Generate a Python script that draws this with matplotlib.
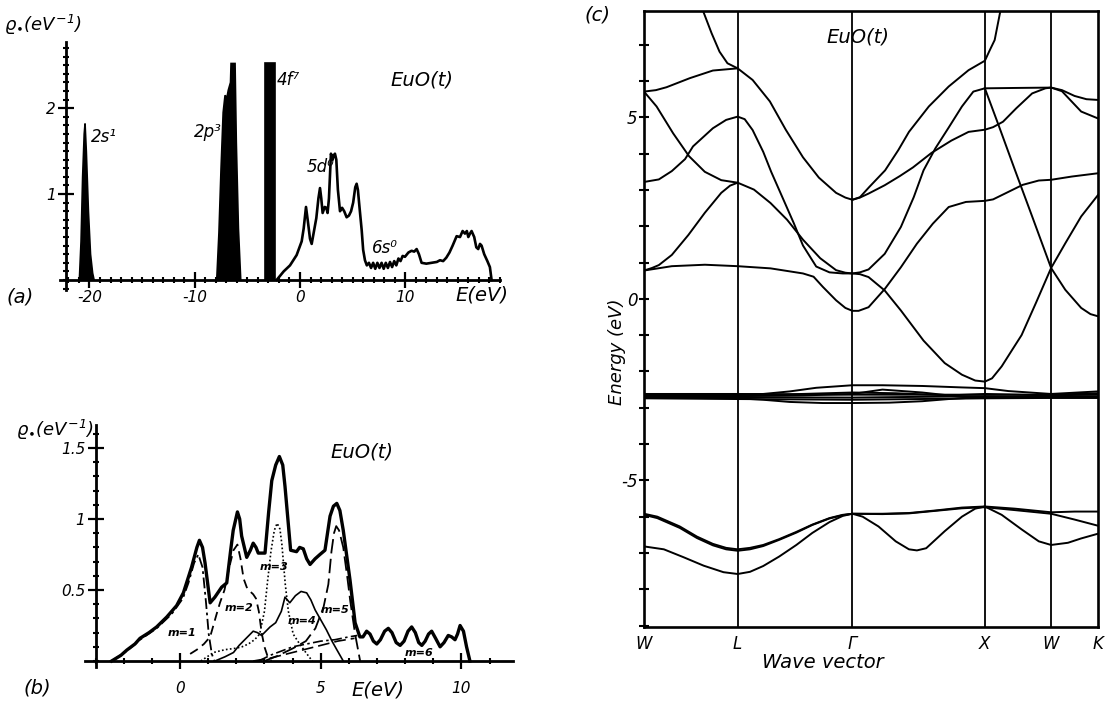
import matplotlib
matplotlib.use("Agg")
import matplotlib.pyplot as plt
from matplotlib.ticker import MultipleLocator, FixedLocator

plt.rcParams['font.family'] = ['DejaVu Sans']
plt.rcParams['font.style'] = 'italic'
plt.rcParams['mathtext.fontset'] = 'dejavusans'
plt.rcParams['axes.unicode_minus'] = False

# ---------------- (a) EuO density of states, wide energy range ----------------
s2_e = [-20.96, -20.8, -20.65, -20.5, -20.42, -20.3, -20.1, -19.9, -19.7, -19.56]
s2_g = [0.0, 0.45, 1.2, 1.7, 1.82, 1.5, 0.8, 0.3, 0.08, 0.0]

p2_e = [-7.91, -7.7, -7.5, -7.3, -7.12, -6.95, -6.81, -6.6, -6.55, -6.17, -6.05, -5.85, -5.63]
p2_g = [0.0, 0.55, 1.3, 1.95, 2.15, 2.12, 2.21, 2.3, 2.52, 2.52, 1.6, 0.6, 0.0]

f4_e = [-3.32, -3.32, -2.37, -2.37]
f4_g = [0.0, 2.52, 2.52, 0.0]

d5_e = [-2.22, -1.55, -0.95, -0.32, 0.16, 0.35, 0.57, 0.75, 0.95, 1.11, 1.3, 1.55, 1.75, 1.9,
        2.02, 2.15, 2.35, 2.5, 2.62, 2.75, 2.94, 3.1, 3.2, 3.32, 3.45, 3.6, 3.8, 4.0, 4.2, 4.43,
        4.65, 4.85, 5.05, 5.25, 5.38, 5.5, 5.65, 5.86, 6.0, 6.17, 6.35, 6.55, 6.75, 6.95, 7.15,
        7.35, 7.55, 7.75, 7.95, 8.15, 8.35, 8.55, 8.75, 8.95, 9.15, 9.35, 9.55, 9.75, 9.97,
        10.3, 10.6, 10.85, 11.08, 11.3, 11.55, 12.0, 12.5, 13.0, 13.3, 13.6, 13.9, 14.2, 14.5,
        14.88, 15.2, 15.45, 15.67, 15.85, 15.99, 16.15, 16.3, 16.55, 16.75, 16.93, 17.1, 17.25,
        17.5, 17.8, 18.04, 18.2]
d5_g = [0.0, 0.1, 0.17, 0.29, 0.45, 0.6, 0.85, 0.68, 0.48, 0.42, 0.55, 0.72, 0.95, 1.07,
        0.95, 0.78, 0.85, 0.84, 0.78, 0.95, 1.47, 1.40, 1.45, 1.47, 1.40, 1.05, 0.80, 0.84, 0.80, 0.73,
        0.75, 0.80, 0.90, 1.08, 1.12, 1.05, 0.85, 0.58, 0.35, 0.23, 0.17, 0.20, 0.14, 0.20, 0.13,
        0.20, 0.14, 0.20, 0.13, 0.20, 0.14, 0.21, 0.15, 0.22, 0.17, 0.25, 0.22, 0.28, 0.27,
        0.32, 0.34, 0.33, 0.36, 0.30, 0.20, 0.19, 0.20, 0.21, 0.23, 0.22, 0.26, 0.32, 0.40,
        0.51, 0.50, 0.57, 0.54, 0.57, 0.50, 0.54, 0.57, 0.50, 0.38, 0.36, 0.42, 0.40,
        0.30, 0.22, 0.15, 0.0]

# ---------------- (b) 5d/6s partial densities, m-resolved ----------------
tot_e = [-2.43, -2.1, -1.89, -1.6, -1.42, -1.1, -0.83, -0.47, -0.12, 0.12, 0.41, 0.6, 0.69, 0.8,
         0.89, 1.07, 1.24, 1.48, 1.66, 1.8, 1.89, 2.04, 2.12, 2.19, 2.37, 2.5, 2.6, 2.7, 2.78,
         3.02, 3.15, 3.26, 3.4, 3.53, 3.65, 3.73, 3.93, 4.14, 4.25, 4.38, 4.5, 4.62, 4.8, 4.97,
         5.15, 5.33, 5.45, 5.57, 5.68, 5.8, 6.04, 6.22, 6.39, 6.5, 6.63, 6.75, 6.87, 6.99, 7.12,
         7.27, 7.4, 7.53, 7.68, 7.82, 7.96, 8.1, 8.23, 8.36, 8.48, 8.59, 8.71, 8.83, 8.94, 9.08,
         9.24, 9.38, 9.53, 9.65, 9.77, 9.86, 9.95, 10.07, 10.18, 10.3]
tot_g = [0.0, 0.04, 0.077, 0.12, 0.16, 0.2, 0.24, 0.31, 0.39, 0.48, 0.66, 0.8, 0.85, 0.80,
         0.69, 0.41, 0.45, 0.52, 0.55, 0.78, 0.92, 1.05, 1.0, 0.88, 0.73, 0.78, 0.83, 0.80, 0.76,
         0.76, 1.05, 1.27, 1.38, 1.44, 1.38, 1.23, 0.78, 0.77, 0.80, 0.79, 0.72, 0.68, 0.72, 0.75,
         0.78, 1.02, 1.09, 1.11, 1.06, 0.92, 0.57, 0.27, 0.17, 0.17, 0.21, 0.19, 0.14, 0.12, 0.15,
         0.21, 0.23, 0.20, 0.13, 0.11, 0.14, 0.21, 0.24, 0.20, 0.13, 0.11, 0.14, 0.19, 0.21, 0.16,
         0.10, 0.13, 0.18, 0.17, 0.15, 0.19, 0.25, 0.21, 0.10, 0.0]

m1_e = [-2.43, -1.89, -1.42, -0.83, -0.3, 0.1, 0.3, 0.5, 0.65, 0.8, 0.92, 1.02, 1.13, 1.22]
m1_g = [0.0, 0.07, 0.15, 0.23, 0.33, 0.44, 0.55, 0.69, 0.75, 0.66, 0.42, 0.19, 0.05, 0.0]

m2_e = [0.36, 0.6, 0.85, 1.07, 1.3, 1.42, 1.58, 1.75, 1.9, 2.04, 2.15, 2.26, 2.37, 2.49, 2.6,
        2.7, 2.8, 2.9, 3.0, 3.1, 3.25]
m2_g = [0.05, 0.08, 0.12, 0.17, 0.33, 0.41, 0.5, 0.66, 0.78, 0.82, 0.72, 0.58, 0.52, 0.49, 0.47,
        0.44, 0.35, 0.2, 0.1, 0.04, 0.0]

m3_e = [0.74, 1.19, 1.6, 1.98, 2.2, 2.43, 2.65, 2.83, 3.0, 3.11, 3.23, 3.35, 3.45, 3.55, 3.62,
        3.74, 3.85, 4.02, 4.25, 4.47, 4.7]
m3_g = [0.0, 0.06, 0.08, 0.09, 0.1, 0.12, 0.15, 0.19, 0.35, 0.56, 0.77, 0.92, 0.97, 0.93, 0.82,
        0.54, 0.35, 0.19, 0.12, 0.06, 0.0]

m4_e = [1.24, 1.6, 1.9, 2.1, 2.35, 2.6, 2.75, 2.9, 3.2, 3.4, 3.6, 3.73, 3.9, 4.1, 4.3, 4.5,
        4.65, 4.8, 5.0, 5.2, 5.4, 5.57, 5.8]
m4_g = [0.0, 0.03, 0.06, 0.11, 0.16, 0.21, 0.2, 0.18, 0.24, 0.27, 0.35, 0.45, 0.41, 0.46, 0.49,
        0.48, 0.43, 0.36, 0.29, 0.22, 0.14, 0.08, 0.0]

m5_e = [3.0, 3.45, 4.02, 4.47, 4.81, 5.1, 5.27, 5.38, 5.47, 5.55, 5.65, 5.8, 5.95, 6.05, 6.22, 6.4]
m5_g = [0.0, 0.035, 0.09, 0.14, 0.23, 0.38, 0.54, 0.77, 0.9, 0.95, 0.92, 0.8, 0.58, 0.42, 0.19, 0.0]

m6_e = [2.8, 3.2, 3.6, 4.0, 4.5, 5.0, 5.5, 6.0, 6.3]
m6_g = [0.0, 0.04, 0.07, 0.1, 0.12, 0.14, 0.15, 0.17, 0.18]

m0_e = [2.6, 3.2, 3.8, 4.4, 5.0, 5.6, 6.2]
m0_g = [0.0, 0.02, 0.05, 0.08, 0.11, 0.14, 0.16]

m_labels = ['m=1', 'm=2', 'm=3', 'm=4', 'm=5', 'm=6']
m_label_e = [0.06, 2.1, 3.34, 4.35, 5.5, 8.5]
m_label_g = [0.2, 0.37, 0.66, 0.28, 0.36, 0.055]

# ---------------- (c) band structure ----------------
sym_k = [0.0, 0.707, 1.573, 2.573, 3.073, 3.427]
sym_names = ['W', 'L', 'Γ', 'X', 'W', 'K']

cond_bands = [
    ([0.42, 0.446, 0.51, 0.57, 0.63, 0.707, 0.82, 0.95, 1.07, 1.2, 1.32, 1.45, 1.52, 1.573, 1.63,
      1.70, 1.82, 1.92, 2.0, 2.15, 2.30, 2.45, 2.573, 2.61, 2.647, 2.69, 2.72],
     [8.2, 7.93, 7.32, 6.81, 6.49, 6.35, 6.03, 5.44, 4.66, 3.9, 3.34, 2.92, 2.79, 2.73, 2.8,
      3.08, 3.54, 4.1, 4.6, 5.30, 5.85, 6.30, 6.56, 6.85, 7.13, 7.93, 8.3]),
    ([0.0, 0.09, 0.17, 0.346, 0.52, 0.707],
     [5.71, 5.75, 5.83, 6.08, 6.29, 6.35]),
    ([0.0, 0.095, 0.22, 0.34, 0.459, 0.583, 0.707, 0.83, 0.955, 1.08, 1.2, 1.33, 1.45, 1.52,
      1.573, 1.63, 1.695, 1.817, 1.939, 2.036, 2.11, 2.2, 2.3, 2.4, 2.486, 2.573, 2.8, 3.073,
      3.155, 3.25, 3.34, 3.427],
     [5.71, 5.30, 4.56, 3.93, 3.5, 3.27, 3.2, 3.01, 2.64, 2.18, 1.63, 1.12, 0.79, 0.72,
      0.70, 0.73, 0.81, 1.24, 1.98, 2.80, 3.54, 4.15, 4.72, 5.3, 5.71, 5.80, 5.81, 5.82,
      5.75, 5.59, 5.50, 5.48]),
    ([0.0, 0.112, 0.21, 0.31, 0.37, 0.52, 0.62, 0.707, 0.76, 0.82, 0.90, 0.96, 1.03, 1.13, 1.2,
      1.30, 1.40, 1.50, 1.573, 1.63, 1.695, 1.817, 1.939, 2.11, 2.27, 2.40, 2.50, 2.573, 2.627,
      2.70, 2.78, 2.85, 2.96, 3.073, 3.18, 3.30, 3.427],
     [3.22, 3.29, 3.52, 3.85, 4.2, 4.70, 4.93, 5.02, 4.95, 4.65, 4.05, 3.5, 2.92, 2.09, 1.47,
      0.89, 0.73, 0.70, 0.70, 0.68, 0.60, 0.23, -0.32, -1.15, -1.77, -2.09, -2.25, -2.28, -2.19,
      -1.86, -1.40, -1.0, -0.1, 0.85, 1.53, 2.27, 2.86]),
    ([0.0, 0.06, 0.112, 0.21, 0.335, 0.459, 0.583, 0.65, 0.707],
     [0.78, 0.85, 0.93, 1.21, 1.76, 2.37, 2.92, 3.12, 3.2]),
    ([0.0, 0.21, 0.46, 0.707, 0.955, 1.2, 1.28, 1.35, 1.45, 1.52, 1.573, 1.62, 1.695, 1.817,
      1.939, 2.06, 2.18, 2.30, 2.43, 2.573, 2.635, 2.73, 2.858, 2.98, 3.073, 3.23, 3.427],
     [0.78, 0.90, 0.94, 0.90, 0.84, 0.70, 0.61, 0.33, -0.04, -0.25, -0.33, -0.33, -0.23, 0.27,
      0.87, 1.52, 2.07, 2.53, 2.67, 2.70, 2.74, 2.91, 3.14, 3.26, 3.28, 3.37, 3.46]),
    ([1.573, 1.63, 1.695, 1.817, 1.93, 2.03, 2.17, 2.32, 2.45, 2.573, 2.635, 2.71, 2.81, 2.93,
      3.03, 3.073, 3.155, 3.23, 3.3, 3.427],
     [2.73, 2.79, 2.90, 3.13, 3.38, 3.62, 4.02, 4.36, 4.6, 4.66, 4.73, 4.88, 5.25, 5.66,
      5.8, 5.82, 5.72, 5.43, 5.16, 4.97]),
    ([2.573, 2.68, 2.80, 2.93, 3.073, 3.18, 3.30, 3.37, 3.427],
     [5.8, 4.75, 3.55, 2.27, 0.85, 0.25, -0.25, -0.42, -0.48]),
]

f_bands = [
    ([0.0, 0.707, 0.9, 1.1, 1.3, 1.573, 1.8, 2.1, 2.4, 2.573, 2.75, 3.073, 3.427],
     [-2.64, -2.63, -2.62, -2.55, -2.45, -2.38, -2.38, -2.40, -2.44, -2.46, -2.54, -2.62, -2.55]),
    ([0.0, 0.707, 1.1, 1.573, 1.9, 2.3, 2.573, 3.073, 3.427],
     [-2.66, -2.65, -2.63, -2.58, -2.60, -2.66, -2.62, -2.66, -2.63]),
    ([0.0, 0.707, 1.2, 1.573, 1.8, 2.1, 2.4, 2.573, 3.073, 3.427],
     [-2.68, -2.68, -2.66, -2.62, -2.50, -2.58, -2.70, -2.72, -2.68, -2.68]),
    ([0.0, 0.707, 0.9, 1.1, 1.35, 1.573, 1.85, 2.1, 2.3, 2.573, 3.073, 3.427],
     [-2.72, -2.74, -2.78, -2.84, -2.87, -2.87, -2.86, -2.82, -2.76, -2.70, -2.72, -2.72]),
    ([0.0, 0.707, 1.573, 2.573, 3.073, 3.427], [-2.70, -2.71, -2.72, -2.68, -2.70, -2.70]),
    ([0.0, 0.707, 1.573, 2.573, 3.073, 3.427], [-2.74, -2.76, -2.78, -2.74, -2.73, -2.73]),
    ([0.0, 0.707, 1.573, 2.573, 3.073, 3.427], [-2.62, -2.62, -2.64, -2.64, -2.64, -2.60]),
]

val_bands = [
    ([0.0, 0.1, 0.27, 0.4, 0.52, 0.62, 0.707, 0.8, 0.9, 1.02, 1.15, 1.27, 1.4, 1.5, 1.573,
      1.8, 2.0, 2.2, 2.4, 2.573, 2.8, 3.073, 3.25, 3.427],
     [-5.92, -6.0, -6.27, -6.55, -6.75, -6.86, -6.9, -6.86, -6.78, -6.62, -6.42, -6.22, -6.04,
      -5.95, -5.92, -5.92, -5.9, -5.83, -5.75, -5.72, -5.78, -5.88, -5.86, -5.86]),
    ([0.0, 0.1, 0.27, 0.4, 0.52, 0.62, 0.707, 0.8, 0.9, 1.02, 1.15, 1.27, 1.4, 1.5, 1.573,
      1.65, 1.77, 1.9, 2.0, 2.06, 2.13, 2.27, 2.4, 2.5, 2.573, 2.7, 2.85, 2.98, 3.073, 3.2,
      3.3, 3.427],
     [-5.95, -6.04, -6.31, -6.59, -6.79, -6.9, -6.94, -6.9, -6.81, -6.64, -6.44, -6.23, -6.05,
      -5.96, -5.92, -6.0, -6.27, -6.68, -6.9, -6.93, -6.87, -6.4, -6.0, -5.78, -5.72, -5.95,
      -6.35, -6.68, -6.78, -6.72, -6.6, -6.47]),
    ([0.0, 0.15, 0.3, 0.45, 0.6, 0.707, 0.8, 0.9, 1.02, 1.15, 1.27, 1.4, 1.5, 1.573,
      1.8, 2.0, 2.2, 2.4, 2.573, 2.8, 3.073, 3.25, 3.427],
     [-6.82, -6.9, -7.12, -7.35, -7.53, -7.58, -7.52, -7.36, -7.1, -6.78, -6.45, -6.15, -5.98,
      -5.92, -5.93, -5.91, -5.84, -5.77, -5.74, -5.82, -5.92, -6.08, -6.25]),
]

# ---------------- figure ----------------
W, H = 1112, 702
fig = plt.figure(figsize=(W / 100, H / 100), dpi=100)


def px(x, y):
    return x / W, 1 - y / H


def cross_axes(ax, x0, y0):
    for side in ('top', 'right'):
        ax.spines[side].set_visible(False)
    ax.spines['left'].set_position(('data', x0))
    ax.spines['bottom'].set_position(('data', y0))
    for side in ('left', 'bottom'):
        ax.spines[side].set_linewidth(2.0)
    ax.tick_params(which='major', direction='inout', length=11, width=1.6, labelsize=11)
    ax.tick_params(which='minor', direction='inout', length=5, width=1.5)
    ax.patch.set_alpha(0)


# (a)
ax_a = fig.add_axes([60 / W, 1 - 290.3 / H, 440 / W, 248.3 / H])
ax_a.set_xlim(-22.8, 19.0)
ax_a.set_ylim(-0.12, 2.77)
cross_axes(ax_a, -22.2, 0.0)
ax_a.xaxis.set_major_locator(FixedLocator([-20, -10, 0, 10]))
ax_a.xaxis.set_minor_locator(MultipleLocator(1))
ax_a.yaxis.set_major_locator(FixedLocator([1, 2]))
ax_a.yaxis.set_minor_locator(MultipleLocator(0.1))
ax_a.tick_params(axis='x', pad=2)
ax_a.tick_params(axis='y', pad=2)
ax_a.fill(s2_e, s2_g, color='black', lw=1.2)
ax_a.fill(p2_e, p2_g, color='black', lw=1.2)
ax_a.fill(f4_e, f4_g, color='black', lw=1.2)
ax_a.plot(d5_e, d5_g, color='black', lw=1.9, solid_joinstyle='round')
ax_a.text(-19.9, 1.66, '2s¹', fontsize=12, va='center', ha='left')
ax_a.text(-10.1, 1.72, '2p³', fontsize=12, va='center', ha='left')
ax_a.text(-2.2, 2.33, '4f⁷', fontsize=12, va='center', ha='left')
ax_a.text(8.55, 2.33, 'EuO(t)', fontsize=14, va='center', ha='left')
ax_a.text(0.6, 1.31, '5d⁰', fontsize=12, va='center', ha='left')
ax_a.text(6.8, 0.37, '6s⁰', fontsize=12, va='center', ha='left')
fig.text(*px(20, 297), '(a)', fontsize=14, ha='center', va='center')
fig.text(*px(482, 295), 'E(eV)', fontsize=14, ha='center', va='center')
fig.text(*px(43, 25), r'$\varrho_{\bullet}(eV^{-1})$', fontsize=13, ha='center', va='center')

# (b)
ax_b = fig.add_axes([85 / W, 1 - 666.7 / H, 428 / W, 241.7 / H])
ax_b.set_xlim(-3.375, 11.83)
ax_b.set_ylim(-0.04, 1.662)
cross_axes(ax_b, -3.0, 0.0)
ax_b.xaxis.set_major_locator(FixedLocator([0, 5, 10]))
ax_b.xaxis.set_minor_locator(MultipleLocator(1))
ax_b.yaxis.set_major_locator(FixedLocator([0.5, 1, 1.5]))
ax_b.yaxis.set_minor_locator(MultipleLocator(0.1))
ax_b.set_xticklabels(['0', '5', '10'])
ax_b.set_yticklabels(['0.5', '1', '1.5'])
ax_b.tick_params(axis='x', pad=9)
ax_b.tick_params(axis='y', pad=2)
ax_b.plot(tot_e, tot_g, color='black', lw=2.4, solid_joinstyle='round')
ax_b.plot(m1_e, m1_g, color='black', lw=1.3, ls=(0, (6, 2, 1.5, 2)))
ax_b.plot(m2_e, m2_g, color='black', lw=1.3, ls=(0, (5, 3)))
ax_b.plot(m3_e, m3_g, color='black', lw=1.2, ls=(0, (1, 1.4)))
ax_b.plot(m4_e, m4_g, color='black', lw=1.2)
ax_b.plot(m5_e, m5_g, color='black', lw=1.3, ls=(0, (8, 3)))
ax_b.plot(m6_e, m6_g, color='black', lw=1.2, ls=(0, (6, 2, 1.5, 2)))
ax_b.plot(m0_e, m0_g, color='black', lw=1.2, ls=(0, (7, 3)))
for lbl, xe, yg in zip(m_labels, m_label_e, m_label_g):
    ax_b.text(xe, yg, lbl, fontsize=8, fontweight='bold', ha='center', va='center')
ax_b.text(5.33, 1.47, 'EuO(t)', fontsize=14, va='center', ha='left')
fig.text(*px(37, 688), '(b)', fontsize=14, ha='center', va='center')
fig.text(*px(378, 690), 'E(eV)', fontsize=14, ha='center', va='center')
fig.text(*px(55, 430), r'$\varrho_{\bullet}(eV^{-1})$', fontsize=13, ha='center', va='center')

# (c)
ax_c = fig.add_axes([644 / W, 1 - 627 / H, 454 / W, 616 / H])
ax_c.set_xlim(sym_k[0], sym_k[-1])
ax_c.set_ylim(-9.04, 7.93)
for sp in ax_c.spines.values():
    sp.set_linewidth(1.9)
for kk in sym_k[1:-1]:
    ax_c.axvline(kk, color='black', lw=1.3)
for k_pts, e_pts in cond_bands + f_bands + val_bands:
    ax_c.plot(k_pts, e_pts, color='black', lw=1.4, solid_joinstyle='round')
ax_c.set_xticks(sym_k)
ax_c.set_xticklabels(sym_names, fontsize=12)
ax_c.tick_params(axis='x', length=0, pad=6)
ax_c.yaxis.set_major_locator(FixedLocator([-5, 0, 5]))
ax_c.yaxis.set_minor_locator(MultipleLocator(1))
ax_c.set_yticklabels(['-5', '0', '5'])
ax_c.tick_params(axis='y', which='both', direction='inout', length=7, width=1.5,
                 labelsize=12, pad=1)
ax_c.text(1.376, 7.22, 'EuO(t)', fontsize=14, va='center', ha='left')
fig.text(*px(598, 15), '(c)', fontsize=14, ha='center', va='center')
fig.text(*px(617, 352), 'Energy (eV)', fontsize=13, rotation=90, ha='center', va='center')
fig.text(*px(823, 662), 'Wave vector', fontsize=14, ha='center', va='center')

fig.savefig('out.png', dpi=100)
